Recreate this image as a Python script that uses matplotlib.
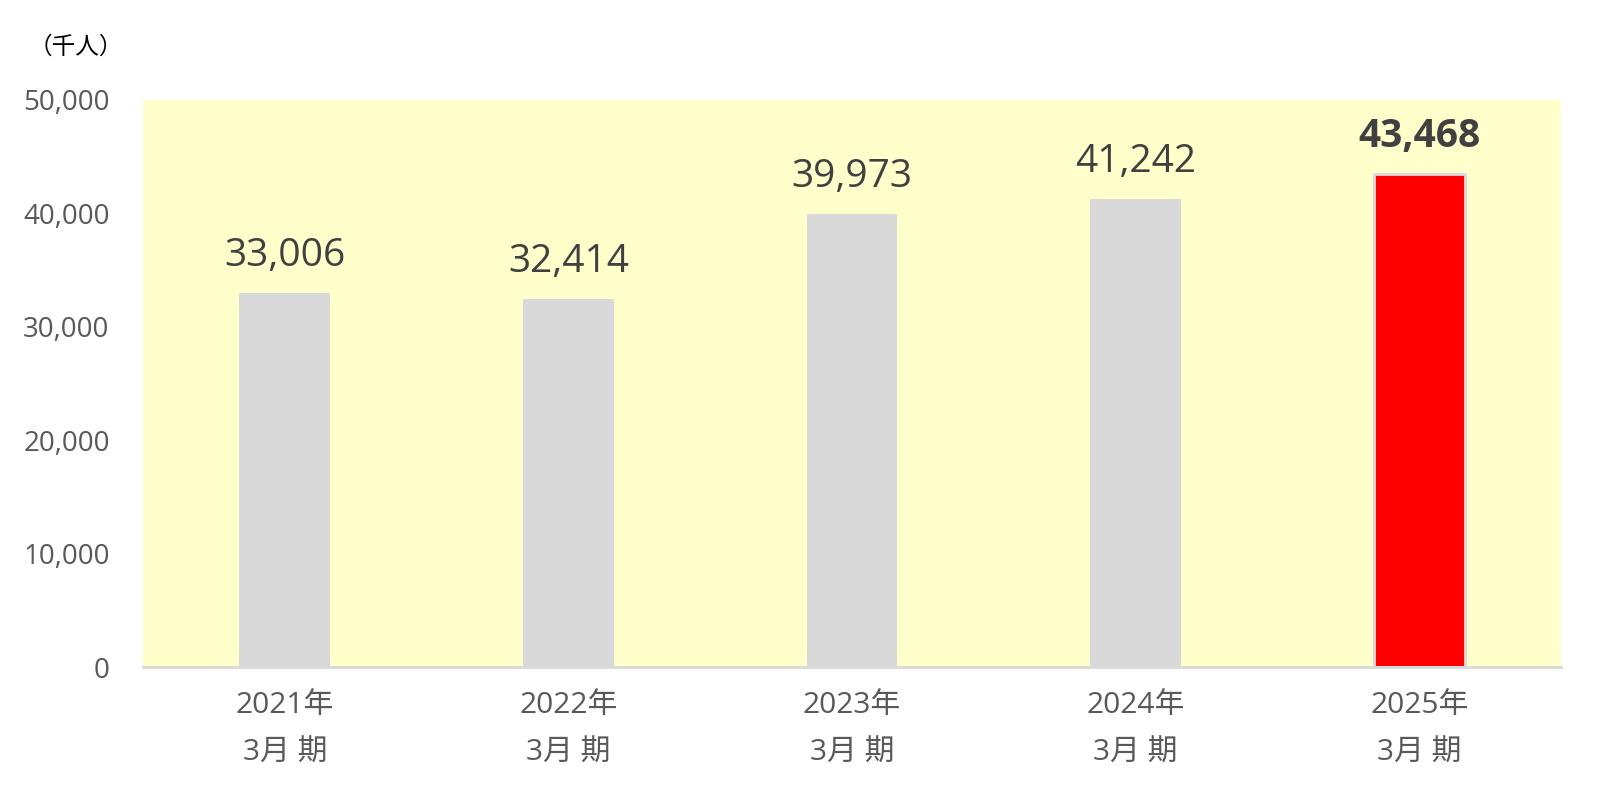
import matplotlib
matplotlib.use("Agg")
import matplotlib.pyplot as plt

categories = ["2021年\n3月 期", "2022年\n3月 期", "2023年\n3月 期", "2024年\n3月 期", "2025年\n3月 期"]
values = [33006, 32414, 39973, 41242, 43468]
yticks = [0, 10000, 20000, 30000, 40000, 50000]
unit_label = "（千人）"

plt.rcParams['font.family'] = ['Open Sans', 'Noto Sans CJK JP', 'DejaVu Sans']

fig = plt.figure(figsize=(16, 8), dpi=100)
ax = fig.add_axes([143/1600, 1 - 667/800, (1561-143)/1600, (667-100)/800])
ax.set_facecolor('#FFFFCC')

x = list(range(len(values)))
colors = ['#D9D9D9'] * (len(values) - 1) + ['#FF0000']
bars = ax.bar(x, values, width=0.32, color=colors, zorder=2)
bars[-1].set_edgecolor('#D9D9D9')
bars[-1].set_linewidth(2)

ax.set_xlim(-0.5, len(values) - 0.5)
ax.set_ylim(0, 50000)
ax.set_yticks(yticks)
ax.set_yticklabels([f"{v:,}" for v in yticks], fontsize=20, color='#595959')
ax.set_xticks(x)
ax.set_xticklabels(categories, fontsize=21.5, color='#595959', linespacing=1.85)
ax.tick_params(axis='y', length=0, pad=24)
ax.tick_params(axis='x', length=0, pad=17)

for s in ['top', 'right', 'left']:
    ax.spines[s].set_visible(False)
ax.spines['bottom'].set_color('#D9D9D9')
ax.spines['bottom'].set_linewidth(2)
ax.spines['bottom'].set_zorder(3)

for i, v in enumerate(values):
    last = i == len(values) - 1
    ax.annotate(f"{v:,}", (i, v), xytext=(0, 13), textcoords='offset points',
                ha='center', va='bottom', fontsize=28,
                fontweight='bold' if last else 'normal', color='#404040')

fig.text(76/1600, 1 - 47/800, unit_label, ha='center', va='center', fontsize=17,
         color='#000000', family=['Noto Sans CJK JP'])

fig.savefig('out.png', dpi=100)
